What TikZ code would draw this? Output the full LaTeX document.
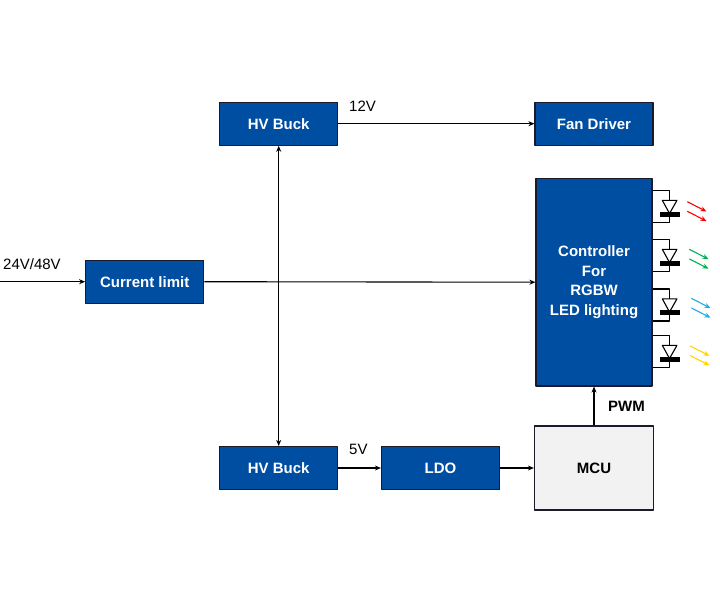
\documentclass[tikz,border=0pt]{standalone}
\usepackage{fontspec}
\setmainfont{Liberation Sans}
\definecolor{blockblue}{HTML}{004EA2}
\definecolor{blockline}{HTML}{1A1A2A}
\definecolor{mcugray}{HTML}{F2F2F2}
\definecolor{ledred}{HTML}{FF0000}
\definecolor{ledgreen}{HTML}{00B050}
\definecolor{ledblue}{HTML}{1CADE4}
\definecolor{ledyellow}{HTML}{FFD500}
\tikzset{
  block/.style={draw=blockline,line width=1.2pt,fill=blockblue,text=white,font=\fontsize{15}{18}\selectfont\bfseries,align=center,inner sep=0pt,minimum width=118pt,minimum height=43pt},
  volt/.style={font=\fontsize{15}{18}\selectfont,inner sep=0pt,text=black},
  wire/.style={line width=1.1pt,black,-{Stealth[length=6pt,width=5pt]}}
}
\usetikzlibrary{arrows.meta}
\begin{document}
\begin{tikzpicture}[x=1pt,y=-1pt,line join=round]
  \useasboundingbox (0,0) rectangle (720,600);
  %% blocks
  \node[block] (buckt) at (278.7,123.7) {HV Buck};
  \node[block] (fan) at (594,123.7) {Fan Driver};
  \node[block] (limit) at (144.7,281.7) {Current limit};
  \node[block,minimum width=116pt,minimum height=207.5pt,yshift=0pt] (ctrl) at (594,282.2) {Controller\\[1.5pt]For\\[1.5pt]RGBW\\[1.5pt]LED lighting};
  \node[block] (buckb) at (278.7,468) {HV Buck};
  \node[block] (ldo) at (440.5,468) {LDO};
  \node[block,fill=mcugray,text=black,minimum width=119pt,minimum height=84pt] (mcu) at (594,468) {MCU};
  \coordinate (in) at (0,281.7);
  %% connectors
  \draw[wire] (in)--(limit.west);
  \draw[wire] (limit.east)--(ctrl.west);
  \draw[wire] (buckt.east)--(fan.west);
  \draw[wire,{Stealth[length=6pt,width=5pt]}-{Stealth[length=6pt,width=5pt]}] (buckt.south)--(buckb.north);
  \draw[wire] (buckb.east)--(ldo.west);
  \draw[wire] (ldo.east)--(mcu.west);
  \draw[wire] (mcu.north)--(ctrl.south);
  %% labels
  \node[volt,anchor=west] (l24) at (3,264) {24V/48V};
  \node[volt,anchor=west] (l12) at (349,106) {12V};
  \node[volt,anchor=west] (l5) at (349,449) {5V};
  \node[volt,anchor=west,font=\fontsize{15}{18}\selectfont\bfseries] (lpwm) at (608,406) {PWM};
  %% LEDs
  \foreach \y/\ax/\ay/\c in {190.5/687.3/11.2/ledred,239.5/689.3/9.8/ledgreen,289/691.3/9.3/ledblue,335.5/690.3/10.5/ledyellow}{
    \draw[line width=1.1pt] (ctrl.east |- 0,\y)--(669.5,\y)--(669.5,\y+32)--(ctrl.east |- 0,\y+32);
    \draw[line width=1.1pt,fill=white] (662.3,\y+9.8)--(677,\y+9.8)--(669.5,\y+23)--cycle;
    \fill (660,\y+21) rectangle (680,\y+26);
    \draw[\c,line width=1.1pt,-{Stealth[length=6pt,width=5pt]}] (\ax,\y+\ay)--++(19.2,9.8);
    \draw[\c,line width=1.1pt,-{Stealth[length=6pt,width=5pt]}] (\ax,\y+\ay+9.6)--++(19.2,9.8);
  }
\end{tikzpicture}
\end{document}
